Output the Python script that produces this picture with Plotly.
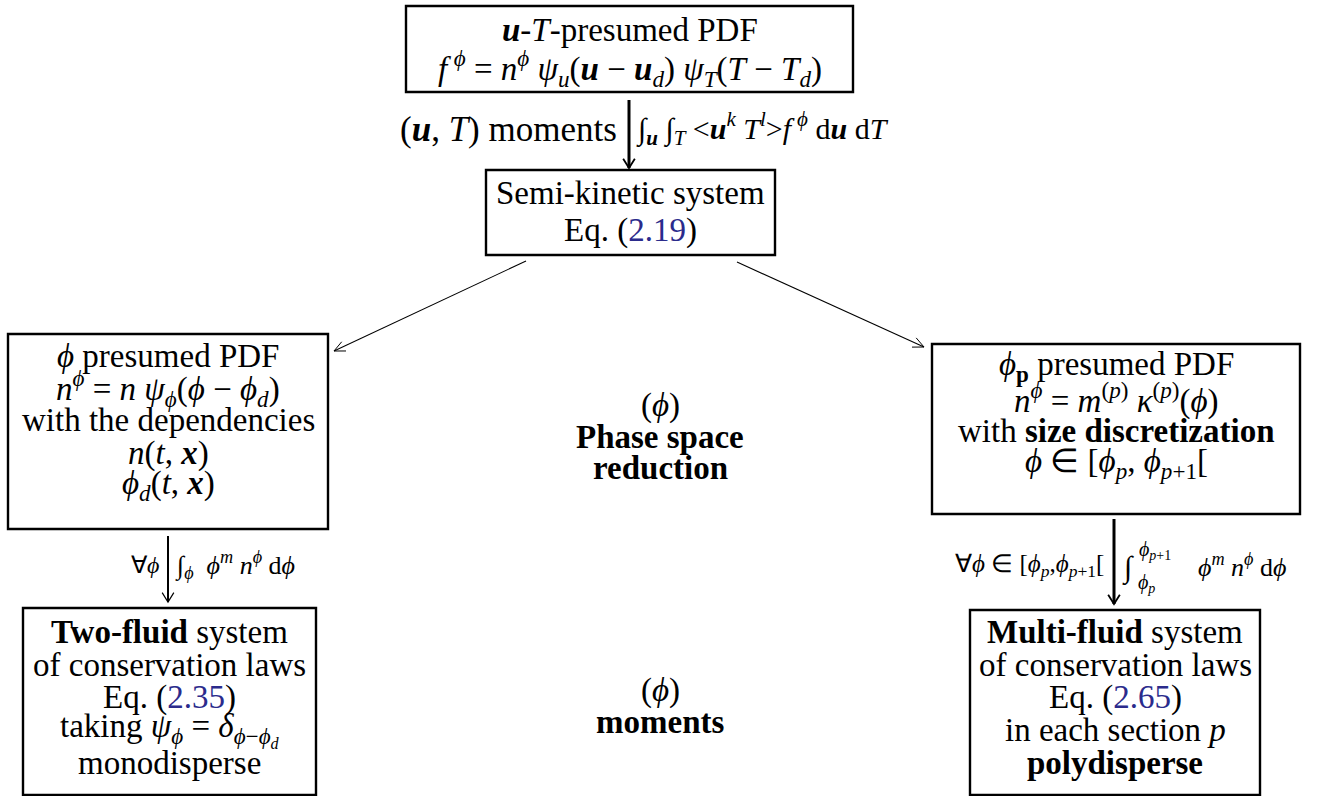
import math
import plotly.graph_objects as go

W, H = 1317, 796
FONT = "Liberation Serif"
BLUE = "#2b2b8c"

PHI = "<i>ϕ</i>"
UB = "<b><i>u</i></b>"
XB = "<b><i>x</i></b>"
TS = "\u2009"  # thin space


def eq(n):
    return f'Eq. (<span style="color:{BLUE}">{n}</span>)'


# ---- text content -------------------------------------------------------
top_lines = [
    f"{UB}-<i>T</i>-presumed PDF",
    f"<i>f</i>{TS}<sup>{PHI}</sup> = <i>n</i><sup>{PHI}</sup> <i>ψ</i><sub><i>u</i></sub>({UB} − {UB}<sub><i>d</i></sub>) "
    f"<i>ψ</i><sub><i>T</i></sub>(<i>T</i> − <i>T</i><sub><i>d</i></sub>)",
]
semi_lines = ["Semi-kinetic system", eq("2.19")]
left_lines = [
    f"{PHI} presumed PDF",
    f"<i>n</i><sup>{PHI}</sup> = <i>n</i> <i>ψ</i><sub>{PHI}</sub>({PHI} − {PHI}<sub><i>d</i></sub>)",
    "with the dependencies",
    f"<i>n</i>(<i>t</i>, {XB})",
    f"{PHI}<sub><i>d</i></sub>(<i>t</i>, {XB})",
]
right_lines = [
    f"{PHI}<sub><b>p</b></sub> presumed PDF",
    f"<i>n</i><sup>{PHI}</sup> = <i>m</i><sup>(<i>p</i>)</sup> <i>κ</i><sup>(<i>p</i>)</sup>({PHI})",
    "with <b>size discretization</b>",
    f"{PHI} ∈ [{PHI}<sub><i>p</i></sub>, {PHI}<sub><i>p</i>+1</sub>[",
]
lb_lines = [
    "<b>Two-fluid</b> system",
    "of conservation laws",
    eq("2.35"),
    f"taking <i>ψ</i><sub>{PHI}</sub> = <i>δ</i><sub>{PHI}−{PHI}<sub><i>d</i></sub></sub>",
    "monodisperse",
]
rb_lines = [
    "<b>Multi-fluid</b> system",
    "of conservation laws",
    eq("2.65"),
    "in each section <i>p</i>",
    "<b>polydisperse</b>",
]
mid1_lines = [f"({PHI})", "<b>Phase space</b>", "<b>reduction</b>"]
mid2_lines = [f"({PHI})", "<b>moments</b>"]

lab_uT_left = f"({UB}, <i>T</i>) moments"
lab_uT_right = (f"∫<sub>{UB}</sub> ∫<sub><i>T</i></sub> &lt;{UB}<sup><i>k</i></sup> <i>T</i><sup><i>l</i></sup>&gt;"
                f"<i>f</i>{TS}<sup>{PHI}</sup> d{UB} d<i>T</i>")
lab_l_left = f"∀{PHI}"
lab_l_right = f"∫<sub>{PHI}</sub>  {PHI}<sup><i>m</i></sup> <i>n</i><sup>{PHI}</sup> d{PHI}"
lab_r_left = f"∀{PHI} ∈ [{PHI}<sub><i>p</i></sub>,{PHI}<sub><i>p</i>+1</sub>["
lab_r_int = "∫"
lab_r_sup = f"{PHI}<sub><i>p</i>+1</sub>"
lab_r_sub = f"{PHI}<sub><i>p</i></sub>"
lab_r_right = f"{PHI}<sup><i>m</i></sup> <i>n</i><sup>{PHI}</sup> d{PHI}"

# ---- layout geometry (pixels) -------------------------------------------
boxes = {
    "top": (406, 6, 853, 92),
    "semi": (486, 170, 775, 255),
    "left": (8, 334, 328, 529),
    "right": (932, 344, 1300, 514),
    "lb": (23, 608, 316, 795),
    "rb": (970, 610, 1260, 795),
}
line_y = {
    "top": [30, 68],
    "semi": [193, 230],
    "left": [356, 388, 420, 453, 485],
    "right": [366, 398, 431, 463],
    "lb": [632, 665, 697, 730, 763],
    "rb": [632, 665, 697, 730, 763],
}
texts = {"top": top_lines, "semi": semi_lines, "left": left_lines,
         "right": right_lines, "lb": lb_lines, "rb": rb_lines}

fig = go.Figure()
shapes = []
annotations = []


def add_text(txt, x, y, size=33, xanchor="center"):
    annotations.append(dict(
        text=txt, x=x, y=y, xref="x", yref="y", showarrow=False,
        xanchor=xanchor, yanchor="middle",
        font=dict(family=FONT, size=size, color="black"),
    ))


for k, (x0, y0, x1, y1) in boxes.items():
    shapes.append(dict(type="rect", x0=x0, y0=y0, x1=x1, y1=y1, xref="x", yref="y",
                       line=dict(color="black", width=2.4), fillcolor="rgba(0,0,0,0)"))
    cx = (x0 + x1) / 2
    for t, y in zip(texts[k], line_y[k]):
        add_text(t, cx, y)


def arrow(x0, y0, x1, y1, width, head=11, ang=32):
    shapes.append(dict(type="line", x0=x0, y0=y0, x1=x1, y1=y1, xref="x", yref="y",
                       line=dict(color="black", width=width)))
    dx, dy = x1 - x0, y1 - y0
    L = math.hypot(dx, dy)
    ux, uy = dx / L, dy / L
    pts = []
    for s in (1, -1):
        a = math.radians(ang) * s
        bx = -(ux * math.cos(a) - uy * math.sin(a))
        by = -(ux * math.sin(a) + uy * math.cos(a))
        pts.append((x1 + head * bx, y1 + head * by))
    path = f"M {pts[0][0]:.2f},{pts[0][1]:.2f} L {x1:.2f},{y1:.2f} L {pts[1][0]:.2f},{pts[1][1]:.2f}"
    shapes.append(dict(type="path", path=path, xref="x", yref="y",
                       line=dict(color="black", width=max(1.0, width * 0.6))))


# arrows
arrow(629, 100, 629, 168, 3.0)
arrow(526, 261, 334, 351, 1.1, head=12, ang=25)
arrow(737, 262, 924, 347, 1.1, head=12, ang=25)
arrow(168, 536, 168, 602, 2.0)
arrow(1114, 519, 1114, 604, 3.0)

# arrow labels
add_text(lab_uT_left, 619, 129, 35, "right")
add_text(lab_uT_right, 634, 128, 30, "left")
add_text(lab_l_left, 161, 565, 24, "right")
add_text(lab_l_right, 173, 565, 26, "left")
add_text(lab_r_left, 1106, 565, 25, "right")
add_text(lab_r_int, 1120, 568, 30, "left")
add_text(lab_r_sup, 1137, 550, 20, "left")
add_text(lab_r_sub, 1136, 583, 20, "left")
add_text(lab_r_right, 1196, 565, 26, "left")

# middle labels
for t, y in zip(mid1_lines, [405, 437, 468]):
    add_text(t, 660, y)
for t, y in zip(mid2_lines, [690, 722]):
    add_text(t, 660, y)

fig.update_layout(
    width=W, height=H, margin=dict(l=0, r=0, t=0, b=0),
    paper_bgcolor="white", plot_bgcolor="white",
    xaxis=dict(range=[0, W], visible=False, fixedrange=True),
    yaxis=dict(range=[H, 0], visible=False, fixedrange=True),
    shapes=shapes, annotations=annotations, showlegend=False,
)

fig.write_html("out.html", config={"displayModeBar": False},
               post_script="document.body.style.margin='0';document.body.style.overflow='hidden';")
